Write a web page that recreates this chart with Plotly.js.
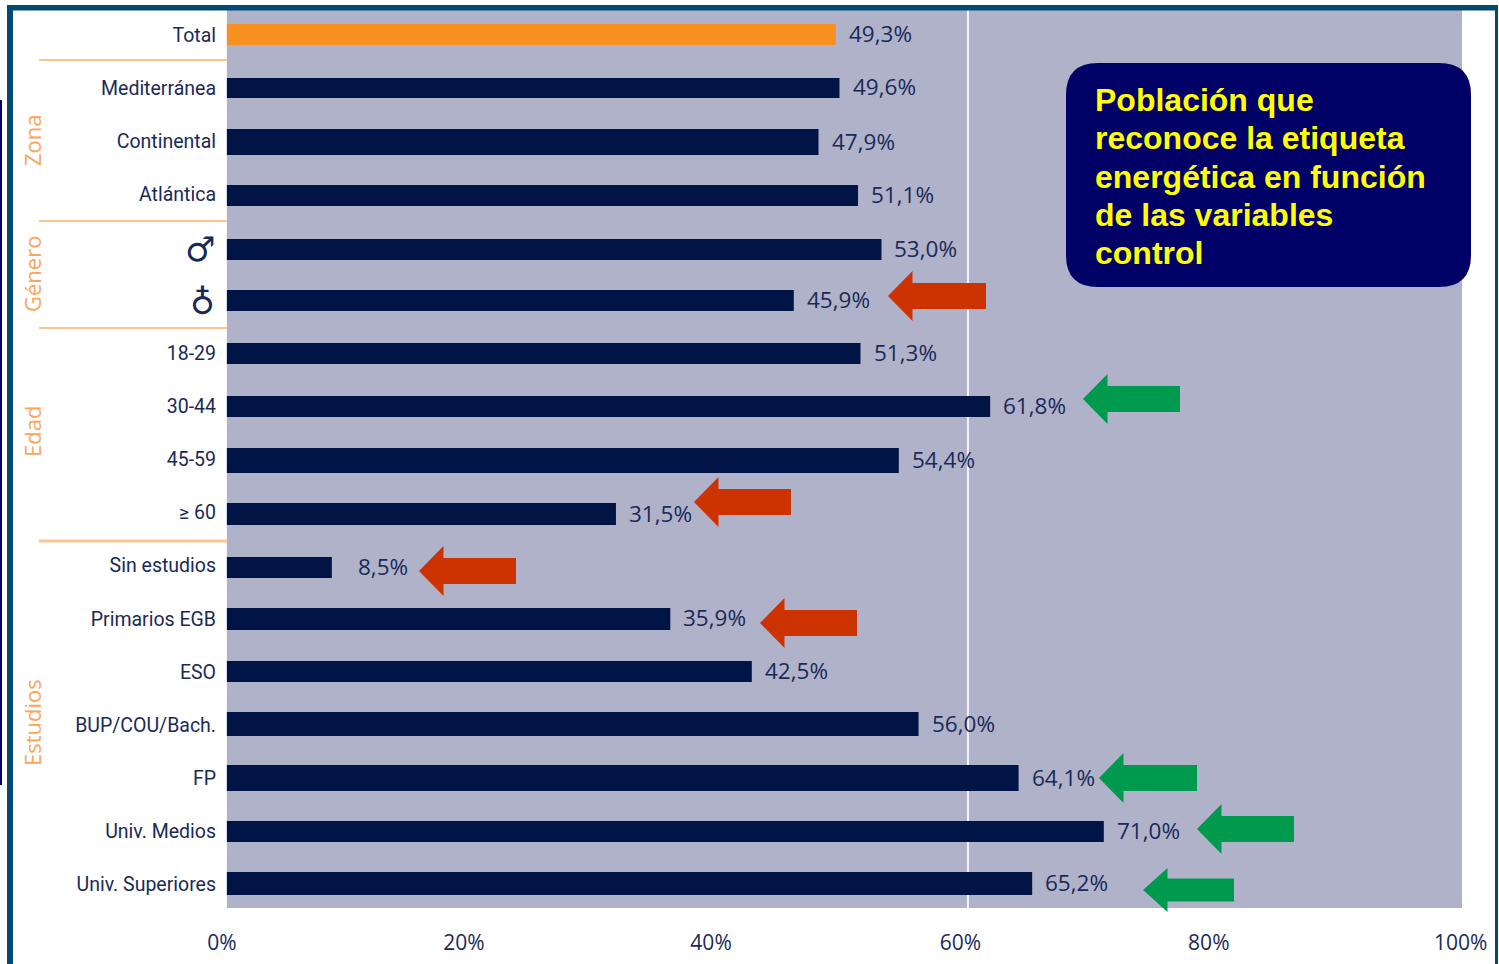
<!DOCTYPE html>
<html><head><meta charset="utf-8">
<script src="https://cdn.plot.ly/plotly-3.0.1.min.js"></script>
<style>html,body{margin:0;padding:0;background:#fff;overflow:hidden}#c{width:1499px;height:964px}</style>
</head><body><div id="c"></div>
<script>
const categories = ['Total','Mediterránea','Continental','Atlántica','♂','♁','18-29','30-44','45-59','≥ 60','Sin estudios','Primarios EGB','ESO','BUP/COU/Bach.','FP','Univ. Medios','Univ. Superiores'];
const values = [49.3,49.6,47.9,51.1,53.0,45.9,51.3,61.8,54.4,31.5,8.5,35.9,42.5,56.0,64.1,71.0,65.2];
const barColors = ['#f7901e'].concat(Array(16).fill('#001446'));
const barHeights = [21,20,26,21,21,21,21,21,25,22,21,22,21,24,26,21,23];
const rowNudge = [0.6,1,2,2.4,3.3,1.2,1.2,1.1,2,2.5,2.9,1.3,0.7,0.2,1.1,1.5,0.5];
const xTickText = ['0%','20%','40%','60%','80%','100%'];
const xTickVals = [-0.4,19.2,39.2,59.4,79.5,99.9];
const titleLines = ['Población que','reconoce la etiqueta','energética en función','de las variables','control'];
const groupLabels = ['Zona','Género','Edad','Estudios'];
const groupCenters = [140,274,432,723];
const separators = [[60,2],[221,2],[328,2],[541,3]];
const symbols = [['♂',249],['♁',302]];
const arrows = [
 {c:'#cc3300',tip:888,y:296,len:98,hw:25,tw:13},
 {c:'#009a4e',tip:1083,y:399,len:97,hw:25,tw:13},
 {c:'#cc3300',tip:694,y:502,len:97,hw:25,tw:13},
 {c:'#cc3300',tip:419,y:571,len:97,hw:25,tw:13},
 {c:'#cc3300',tip:760,y:623,len:97,hw:25,tw:13},
 {c:'#009a4e',tip:1099,y:778,len:98,hw:25,tw:13},
 {c:'#009a4e',tip:1197,y:829,len:97,hw:25,tw:13},
 {c:'#009a4e',tip:1143,y:890,len:91,hw:22,tw:11.5}
];
const W=1499,H=964,L=217,R=37,T=10,B=56;
const px=p=>(p-L)/(W-L-R), py=p=>1-(p-T)/(H-T-B);
const rowPx=(H-T-B)/16.92;
const rect=(x0,y0,x1,y1,c,layer)=>({type:'rect',xref:'paper',yref:'paper',x0:px(x0),x1:px(x1),y0:py(y0),y1:py(y1),fillcolor:c,line:{width:0},layer:layer||'above'});
const shapes=[
 {type:'rect',xref:'x',yref:'paper',x0:0,x1:100,y0:0,y1:1,fillcolor:'#b0b2ca',line:{width:0},layer:'below'},
 {type:'line',xref:'x',yref:'paper',x0:60,x1:60,y0:0,y1:1,line:{color:'#f4f4f8',width:2},layer:'below'},
 rect(7,5,1498,10.5,'#004a73'),rect(7,5,13,964,'#004a73'),rect(1495,5,1498,964,'#004a73'),
 rect(0,100,2,785,'#000066')
];
separators.forEach(s=>shapes.push(rect(39,s[0]-s[1]/2,227,s[0]+s[1]/2,'#fcc58f')));
arrows.forEach(a=>{
 const hb=a.tip+24.5,e=a.tip+a.len;
 const P=[[a.tip,a.y],[hb,a.y-a.hw],[hb,a.y-a.tw],[e,a.y-a.tw],[e,a.y+a.tw],[hb,a.y+a.tw],[hb,a.y+a.hw]];
 shapes.push({type:'path',xref:'paper',yref:'paper',path:'M'+P.map(q=>px(q[0])+','+py(q[1])).join(' L')+' Z',fillcolor:a.c,line:{width:0},layer:'above'});
});
(function(){
 const x0=1066,x1=1471,y0=63,y1=287,r=32;
 const p=(x,y)=>px(x)+','+py(y);
 shapes.push({type:'path',xref:'paper',yref:'paper',fillcolor:'#000066',line:{width:0},layer:'above',
  path:`M${p(x0+r,y0)} L${p(x1-r,y0)} Q${p(x1,y0)} ${p(x1,y0+r)} L${p(x1,y1-r)} Q${p(x1,y1)} ${p(x1-r,y1)} L${p(x0+r,y1)} Q${p(x0,y1)} ${p(x0,y1-r)} L${p(x0,y0+r)} Q${p(x0,y0)} ${p(x0+r,y0)} Z`});
})();
const annotations=[];
values.forEach((v,i)=>annotations.push({x:v,y:categories[i],xref:'x',yref:'y',xanchor:'left',yanchor:'middle',xshift:v<10?24:11,yshift:1-rowNudge[i],
 text:v.toFixed(1).replace('.',',')+'%',showarrow:false,font:{family:'"Open Sans", sans-serif',size:22.5,color:'#1a2a58'}}));
titleLines.forEach((t,i)=>annotations.push({xref:'paper',yref:'paper',x:px(1093),y:py(100+i*38.3),xanchor:'left',yanchor:'middle',text:'<b>'+t+'</b>',showarrow:false,
 font:{family:'"Liberation Sans", Arial, sans-serif',size:32,color:'#ffff00'}}));
groupLabels.forEach((t,i)=>annotations.push({xref:'paper',yref:'paper',x:px(32),y:py(groupCenters[i]),xanchor:'center',yanchor:'middle',textangle:-90,text:t,showarrow:false,
 font:{family:'"Open Sans", sans-serif',size:22,color:'#f9a55a'}}));
symbols.forEach(s=>annotations.push({xref:'paper',yref:'paper',x:px(217),y:py(s[1]),xanchor:'right',yanchor:'middle',text:s[0],showarrow:false,
 font:{family:'"DejaVu Sans", sans-serif',size:34,color:'#1a2a58'}}));
const tickText=categories.map(c=>(c==='♂'||c==='♁')?' ':c);
Plotly.newPlot('c',[{type:'bar',orientation:'h',y:categories,x:values,base:0,
  width:barHeights.map(h=>h/rowPx),offset:barHeights.map((h,i)=>(rowNudge[i]-h/2)/rowPx),
  marker:{color:barColors,line:{width:0}},hoverinfo:'x+y'}],{
 width:W,height:H,margin:{l:L,r:R,t:T,b:B,pad:0},paper_bgcolor:'#fff',plot_bgcolor:'rgba(0,0,0,0)',showlegend:false,
 xaxis:{range:[-0.8,100],tickmode:'array',tickvals:xTickVals,ticktext:xTickText,showgrid:false,zeroline:false,showline:false,ticks:'',ticklabelstandoff:20,tickfont:{family:'"Open Sans", sans-serif',size:21,color:'#1a2a58'}},
 yaxis:{type:'category',categoryorder:'array',categoryarray:categories,range:[16.47,-0.45],tickmode:'array',tickvals:categories,ticktext:tickText,showgrid:false,zeroline:false,showline:false,ticks:'',ticklabelshift:-1,tickfont:{family:'Roboto, sans-serif',size:19.5,color:'#1a2a58'}},
 shapes,annotations
},{displayModeBar:false,staticPlot:true});
</script></body></html>
